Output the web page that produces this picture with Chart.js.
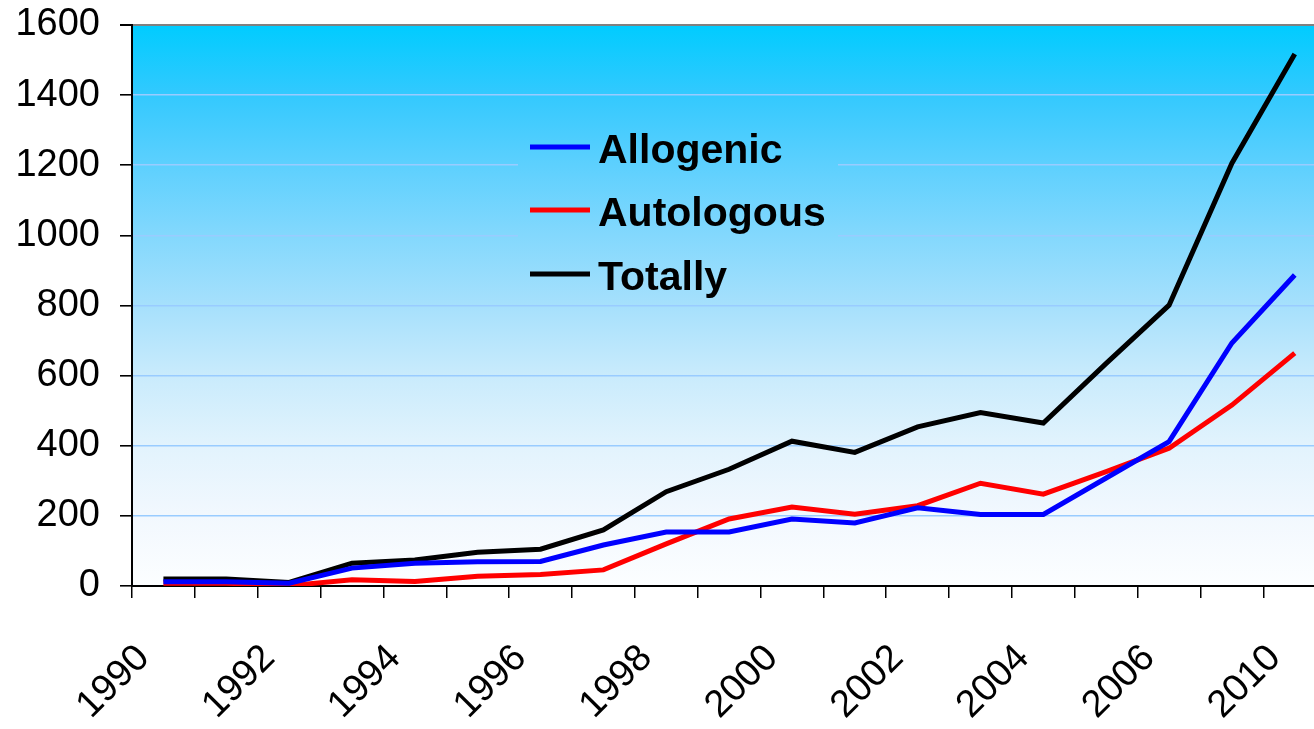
<!DOCTYPE html>
<html>
<head>
<meta charset="utf-8">
<script src="https://cdn.jsdelivr.net/npm/chart.js@4/dist/chart.umd.min.js"></script>
<style>
  html, body { margin: 0; padding: 0; background: #ffffff; overflow: hidden; }
  #wrap { position: relative; width: 1365px; height: 729px; }
</style>
</head>
<body>
<div id="wrap"><canvas id="c"></canvas></div>
<script>
// ---- data ----
const years = ['1990','1991','1992','1993','1994','1995','1996','1997','1998','1999','2000',
               '2001','2002','2003','2004','2005','2006','2008','2010'];
const allogenic  = [12, 12, 8, 51, 65, 69, 70, 117, 154, 154, 191, 180, 223, 204, 204, 308, 412, 693, 887];
const autologous = [8, 8, 1, 18, 13, 28, 33, 46, 120, 191, 225, 205, 229, 293, 262, 326, 393, 516, 664];
const totally    = [20, 20, 10, 65, 74, 96, 105, 160, 269, 333, 413, 381, 454, 495, 465, 635, 801, 1206, 1517];
const seriesNames = ['Allogenic', 'Autologous', 'Totally'];
const yTicks = [0, 200, 400, 600, 800, 1000, 1200, 1400, 1600];

function makeGradient(ctx, area) {
  const g = ctx.createLinearGradient(0, area.top, 0, area.bottom);
  g.addColorStop(0.0,   '#00CCFF');
  g.addColorStop(0.125, '#33C9FE');
  g.addColorStop(0.25,  '#5DD0FE');
  g.addColorStop(0.375, '#83D8FD');
  g.addColorStop(0.5,   '#A6E0FC');
  g.addColorStop(0.625, '#C9EBFC');
  g.addColorStop(0.75,  '#E2F3FD');
  g.addColorStop(0.875, '#F2F8FE');
  g.addColorStop(1.0,   '#FCFEFF');
  return g;
}

const bgPlugin = {
  id: 'bg',
  beforeDraw(chart) {
    const { ctx, chartArea: a } = chart;
    ctx.save();
    ctx.fillStyle = makeGradient(ctx, a);
    ctx.fillRect(a.left, a.top, a.right - a.left, a.bottom - a.top);
    ctx.restore();
  }
};

const legendPlugin = {
  id: 'insideLegend',
  beforeDatasetsDraw(chart) {
    const { ctx, chartArea: a } = chart;
    ctx.save();
    // legend box hides gridlines
    ctx.fillStyle = makeGradient(ctx, a);
    ctx.fillRect(518, 115, 320, 185);
    const rowY = [147, 210, 274];
    chart.data.datasets.forEach((ds, i) => {
      ctx.strokeStyle = ds.borderColor;
      ctx.lineWidth = 5;
      ctx.beginPath();
      ctx.moveTo(530, rowY[i]);
      ctx.lineTo(590, rowY[i]);
      ctx.stroke();
      ctx.fillStyle = '#000000';
      ctx.font = 'bold 41px "Liberation Sans", Arial, sans-serif';
      ctx.textAlign = 'left';
      ctx.textBaseline = 'alphabetic';
      ctx.fillText(ds.label, 598, rowY[i] + 16);
    });
    ctx.restore();
  }
};

const ctx = document.getElementById('c').getContext('2d');
new Chart(ctx, {
  type: 'line',
  data: {
    labels: years,
    datasets: [
      { label: seriesNames[0], data: allogenic,  borderColor: '#0000FF' },
      { label: seriesNames[1], data: autologous, borderColor: '#FF0000' },
      { label: seriesNames[2], data: totally,    borderColor: '#000000' }
    ].map(d => Object.assign(d, { borderWidth: 5, pointRadius: 0, tension: 0, fill: false,
                                  borderCapStyle: 'butt', borderJoinStyle: 'miter' }))
  },
  options: {
    responsive: true,
    maintainAspectRatio: false,
    animation: false,
    layout: { padding: { top: 25, left: 0, right: 0, bottom: 0 } },
    plugins: { legend: { display: false }, tooltip: { enabled: false } },
    scales: {
      x: {
        type: 'category',
        offset: true,
        grid: { offset: true, drawOnChartArea: false, drawTicks: true, tickLength: 12,
                tickColor: '#000000', lineWidth: 1.5 },
        border: { display: true, color: '#000000', width: 2 },
        ticks: {
          autoSkip: false, minRotation: 45, maxRotation: 45, padding: 38, labelOffset: -20,
          color: '#000000',
          font: { family: '"Liberation Sans", Arial, sans-serif', size: 38 },
          callback: function(v, i) { return i % 2 === 0 ? years[i] : ''; }
        },
        afterFit(scale) { scale.height = 143; }
      },
      y: {
        min: 0, max: 1600,
        afterBuildTicks(scale) { scale.ticks = yTicks.map(v => ({ value: v })); },
        grid: {
          color: (c) => c.tick && c.tick.value === 1600 ? '#808080' : (c.tick && c.tick.value === 0 ? 'rgba(0,0,0,0)' : '#99CCFF'),
          lineWidth: (c) => c.tick && c.tick.value === 1600 ? 2 : 1.6,
          tickColor: '#000000', tickLength: 12, drawTicks: true
        },
        border: { display: true, color: '#000000', width: 2 },
        ticks: {
          padding: 20, color: '#000000',
          font: { family: '"Liberation Sans", Arial, sans-serif', size: 38, lineHeight: 0.1 },
          callback: (v) => String(v)
        },
        afterFit(scale) { scale.width = 132; }
      }
    }
  },
  plugins: [bgPlugin, legendPlugin]
});
</script>
</body>
</html>
